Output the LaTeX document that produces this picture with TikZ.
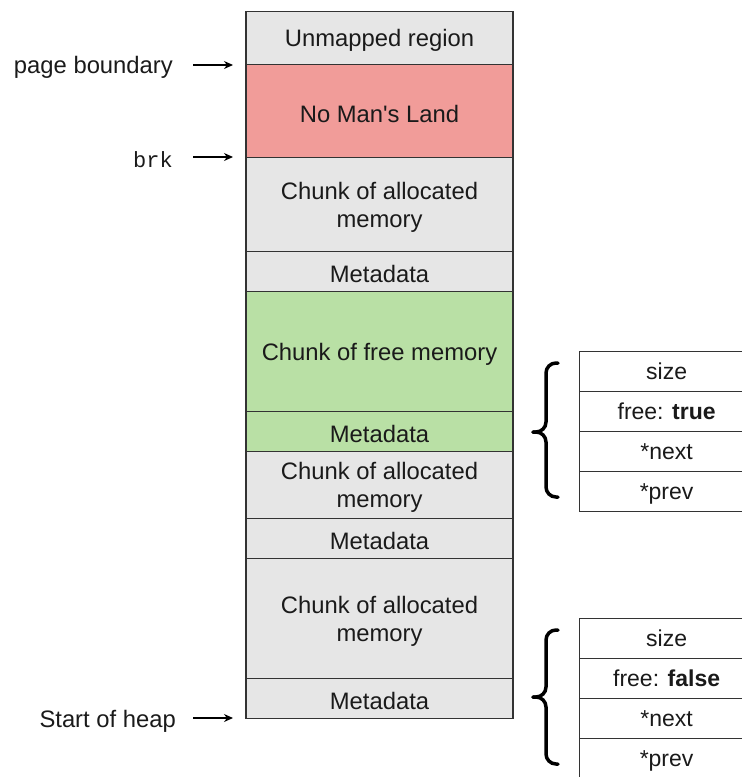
\documentclass[tikz,border=0pt]{standalone}
\usepackage{fontspec}
\setmainfont{Liberation Sans}
\setmonofont{Liberation Mono}
\usetikzlibrary{arrows.meta}
\definecolor{cgray}{HTML}{E6E6E6}
\definecolor{cred}{HTML}{F19C99}
\definecolor{cgreen}{HTML}{B9E0A5}
\definecolor{cline}{HTML}{333333}
\definecolor{ctext}{HTML}{1A1A1A}
\tikzset{
  blk/.style={draw=cline, line width=1.4pt, minimum width=267pt, inner sep=0pt, anchor=north},
  blktxt/.style={inner sep=0pt, align=center, text=ctext, font=\fontsize{23.8}{28}\selectfont, yshift=-2.5pt},
  fld/.style={draw=cline, line width=1.2pt, minimum width=174pt, minimum height=40pt, inner sep=0pt,
    text=ctext, font=\fontsize{23}{27}\selectfont, anchor=north west, fill=white, text depth=0pt},
  lbl/.style={anchor=east, inner sep=0pt, text=ctext, font=\fontsize{23.8}{28}\selectfont},
  ptr/.style={-{Stealth[length=9pt,width=8pt]}, line width=1.3pt, black},
  brc/.style={line width=3.5pt, black, line cap=round, rounded corners=10pt}
}
\begin{document}
\begin{tikzpicture}[x=1pt,y=-1pt]
\useasboundingbox (0,0) rectangle (742,777);
\clip (0,0) rectangle (742,777);
% main column
\node[blk, fill=cgray,  minimum height=53pt]  (u)   at (379.5,11)  {};
\node[blk, fill=cred,   minimum height=93pt]  (nml) at (379.5,64)  {};
\node[blk, fill=cgray,  minimum height=94pt]  (c1)  at (379.5,157) {};
\node[blk, fill=cgray,  minimum height=40pt]  (m1)  at (379.5,251) {};
\node[blk, fill=cgreen, minimum height=120pt] (f)   at (379.5,291) {};
\node[blk, fill=cgreen, minimum height=40pt]  (m2)  at (379.5,411) {};
\node[blk, fill=cgray,  minimum height=67pt]  (c2)  at (379.5,451) {};
\node[blk, fill=cgray,  minimum height=40pt]  (m3)  at (379.5,518) {};
\node[blk, fill=cgray,  minimum height=120pt] (c3)  at (379.5,558) {};
\node[blk, fill=cgray,  minimum height=40pt]  (m4)  at (379.5,678) {};
\node[blktxt] (ut)   at (u.center)   {Unmapped region};
\node[blktxt] (nmlt) at (nml.center) {No Man\textquotesingle s Land};
\node[blktxt] (c1t)  at (c1.center)  {Chunk of allocated\\memory};
\node[blktxt] (m1t)  at (m1.center)  {Metadata};
\node[blktxt] (ft)   at (f.center)   {Chunk of free memory};
\node[blktxt] (m2t)  at (m2.center)  {Metadata};
\node[blktxt] (c2t)  at (c2.center)  {Chunk of allocated\\memory};
\node[blktxt] (m3t)  at (m3.center)  {Metadata};
\node[blktxt] (c3t)  at (c3.center)  {Chunk of allocated\\memory};
\node[blktxt] (m4t)  at (m4.center)  {Metadata};
% labels and pointers
\node[lbl] (pb) at (173,67) {page boundary};
\node[lbl, font=\ttfamily\fontsize{22}{26}\selectfont] (brk) at (173,160) {brk};
\node[lbl] (soh) at (176,721) {Start of heap};
\coordinate (pbA) at (193,65);  \coordinate (pbB) at (233,65);
\coordinate (brA) at (193,157); \coordinate (brB) at (233,157);
\coordinate (shA) at (193,718); \coordinate (shB) at (233,718);
\draw[ptr] (pbA) -- (pbB);
\draw[ptr] (brA) -- (brB);
\draw[ptr] (shA) -- (shB);
% metadata table 1
\node[fld] (s1) at (579,351) {size};
\node[fld] (t1) at (579,391) {free: \textbf{true}};
\node[fld] (n1) at (579,431) {*next};
\node[fld] (p1) at (579,471) {*prev};
% metadata table 2
\node[fld] (s2) at (579,618) {size};
\node[fld] (t2) at (579,658) {free: \textbf{false}};
\node[fld] (n2) at (579,698) {*next};
\node[fld] (p2) at (579,738) {*prev};
% braces
\draw[brc] (558,363) -- (546,363) -- (546,432) -- (533,432);
\draw[brc] (558,497) -- (546,497) -- (546,432) -- (533,432);
\draw[brc] (558,630) -- (546,630) -- (546,697) -- (533,697);
\draw[brc] (558,764) -- (546,764) -- (546,697) -- (533,697);
\end{tikzpicture}
\end{document}
